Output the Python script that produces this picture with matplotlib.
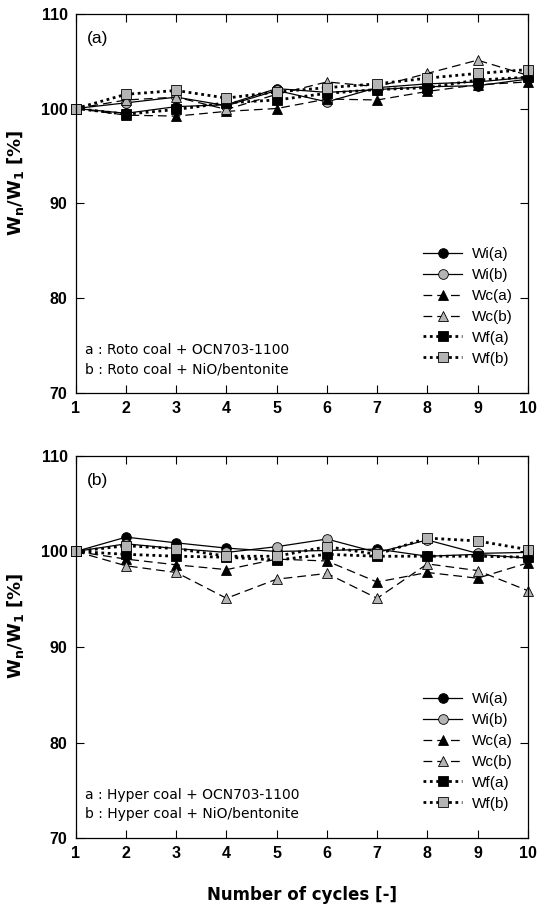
import matplotlib.pyplot as plt

cycles = [1, 2, 3, 4, 5, 6, 7, 8, 9, 10]
series_names = ['Wi(a)', 'Wi(b)', 'Wc(a)', 'Wc(b)', 'Wf(a)', 'Wf(b)']

# panel (a): Roto coal
roto_wi_a = [100, 99.5, 100.2, 100.4, 102.1, 101.7, 102.0, 102.3, 102.4, 103.1]
roto_wi_b = [100, 100.6, 101.2, 100.3, 101.9, 100.7, 102.2, 102.6, 102.8, 103.3]
roto_wc_a = [100, 99.3, 99.2, 99.7, 100.0, 101.0, 100.9, 101.8, 102.5, 102.8]
roto_wc_b = [100, 100.9, 101.2, 99.9, 101.5, 102.8, 102.3, 103.7, 105.1, 103.5]
roto_wf_a = [100, 99.4, 99.9, 100.6, 100.9, 101.6, 102.0, 102.2, 103.0, 103.3]
roto_wf_b = [100, 101.5, 101.9, 101.1, 101.75, 102.2, 102.6, 103.2, 103.7, 104.1]

# panel (b): Hyper coal
hyper_wi_a = [100, 101.5, 100.9, 100.35, 100.0, 100.1, 100.25, 99.5, 99.7, 99.3]
hyper_wi_b = [100, 100.8, 100.3, 99.9, 100.5, 101.3, 99.9, 101.2, 99.8, 99.9]
hyper_wc_a = [100, 99.2, 98.6, 98.1, 99.2, 99.0, 96.8, 97.8, 97.2, 98.8]
hyper_wc_b = [100, 98.5, 97.8, 95.1, 97.1, 97.7, 95.1, 98.7, 98.0, 95.9]
hyper_wf_a = [100, 99.7, 99.5, 99.4, 99.1, 99.7, 99.5, 99.5, 99.5, 99.4]
hyper_wf_b = [100, 100.6, 100.3, 99.5, 99.5, 100.5, 99.7, 101.4, 101.1, 100.2]

gray = '#b4b4b4'
styles = [
    dict(ls='-', marker='o', mfc='black', lw=0.9),
    dict(ls='-', marker='o', mfc=gray, lw=0.9),
    dict(ls=(0, (7, 4)), marker='^', mfc='black', lw=0.9),
    dict(ls=(0, (7, 4)), marker='^', mfc=gray, lw=0.9),
    dict(ls=(0, (1, 1.3)), marker='s', mfc='black', lw=2.0),
    dict(ls=(0, (1, 1.3)), marker='s', mfc=gray, lw=2.0),
]

fig = plt.figure(figsize=(5.38, 9.1), dpi=100)
ax1 = fig.add_axes([0.141, 0.568, 0.840, 0.417])
ax2 = fig.add_axes([0.141, 0.079, 0.840, 0.420])

panels = [
    (ax1, [roto_wi_a, roto_wi_b, roto_wc_a, roto_wc_b, roto_wf_a, roto_wf_b], '(a)',
     'a : Roto coal + OCN703-1100\nb : Roto coal + NiO/bentonite'),
    (ax2, [hyper_wi_a, hyper_wi_b, hyper_wc_a, hyper_wc_b, hyper_wf_a, hyper_wf_b], '(b)',
     'a : Hyper coal + OCN703-1100\nb : Hyper coal + NiO/bentonite'),
]

for ax, data, tag, note in panels:
    for vals, name, st in zip(data, series_names, styles):
        ax.plot(cycles, vals, color='black', ls=st['ls'], lw=st['lw'],
                marker=st['marker'], mfc=st['mfc'], mec='black', mew=0.6,
                ms=7, label=name, clip_on=False)
    ax.set_xlim(1, 10)
    ax.set_ylim(70, 110)
    ax.set_xticks(cycles)
    ax.set_yticks([70, 80, 90, 100, 110])
    ax.tick_params(direction='in', top=True, right=True, length=6, width=0.8,
                   labelsize=11.5, pad=6)
    for lab in ax.get_xticklabels() + ax.get_yticklabels():
        lab.set_fontweight('bold')
        lab.set_family('Liberation Sans')
    for sp in ax.spines.values():
        sp.set_linewidth(0.9)
    ax.text(0.025, 0.955, tag, transform=ax.transAxes, fontsize=12.5,
            family='Liberation Sans', va='top', ha='left')
    ax.text(0.02, 0.045, note, transform=ax.transAxes, fontsize=10,
            family='DejaVu Sans', va='bottom', ha='left', linespacing=1.45)
    ax.legend(loc='lower right', bbox_to_anchor=(1.0, 0.032), frameon=False,
              handlelength=2.6, labelspacing=0.45, borderaxespad=0.6,
              handletextpad=0.6, prop={'family': 'Liberation Sans', 'size': 11})
    ax.set_ylabel(r'$\mathbf{W_n/W_1}$ [%]', fontsize=13, fontweight='bold')
    ax.yaxis.set_label_coords(-0.11, 0.555)

ax2.set_xlabel('Number of cycles [-]', fontsize=12, fontweight='bold', labelpad=18)

plt.savefig('out.png', dpi=100)
